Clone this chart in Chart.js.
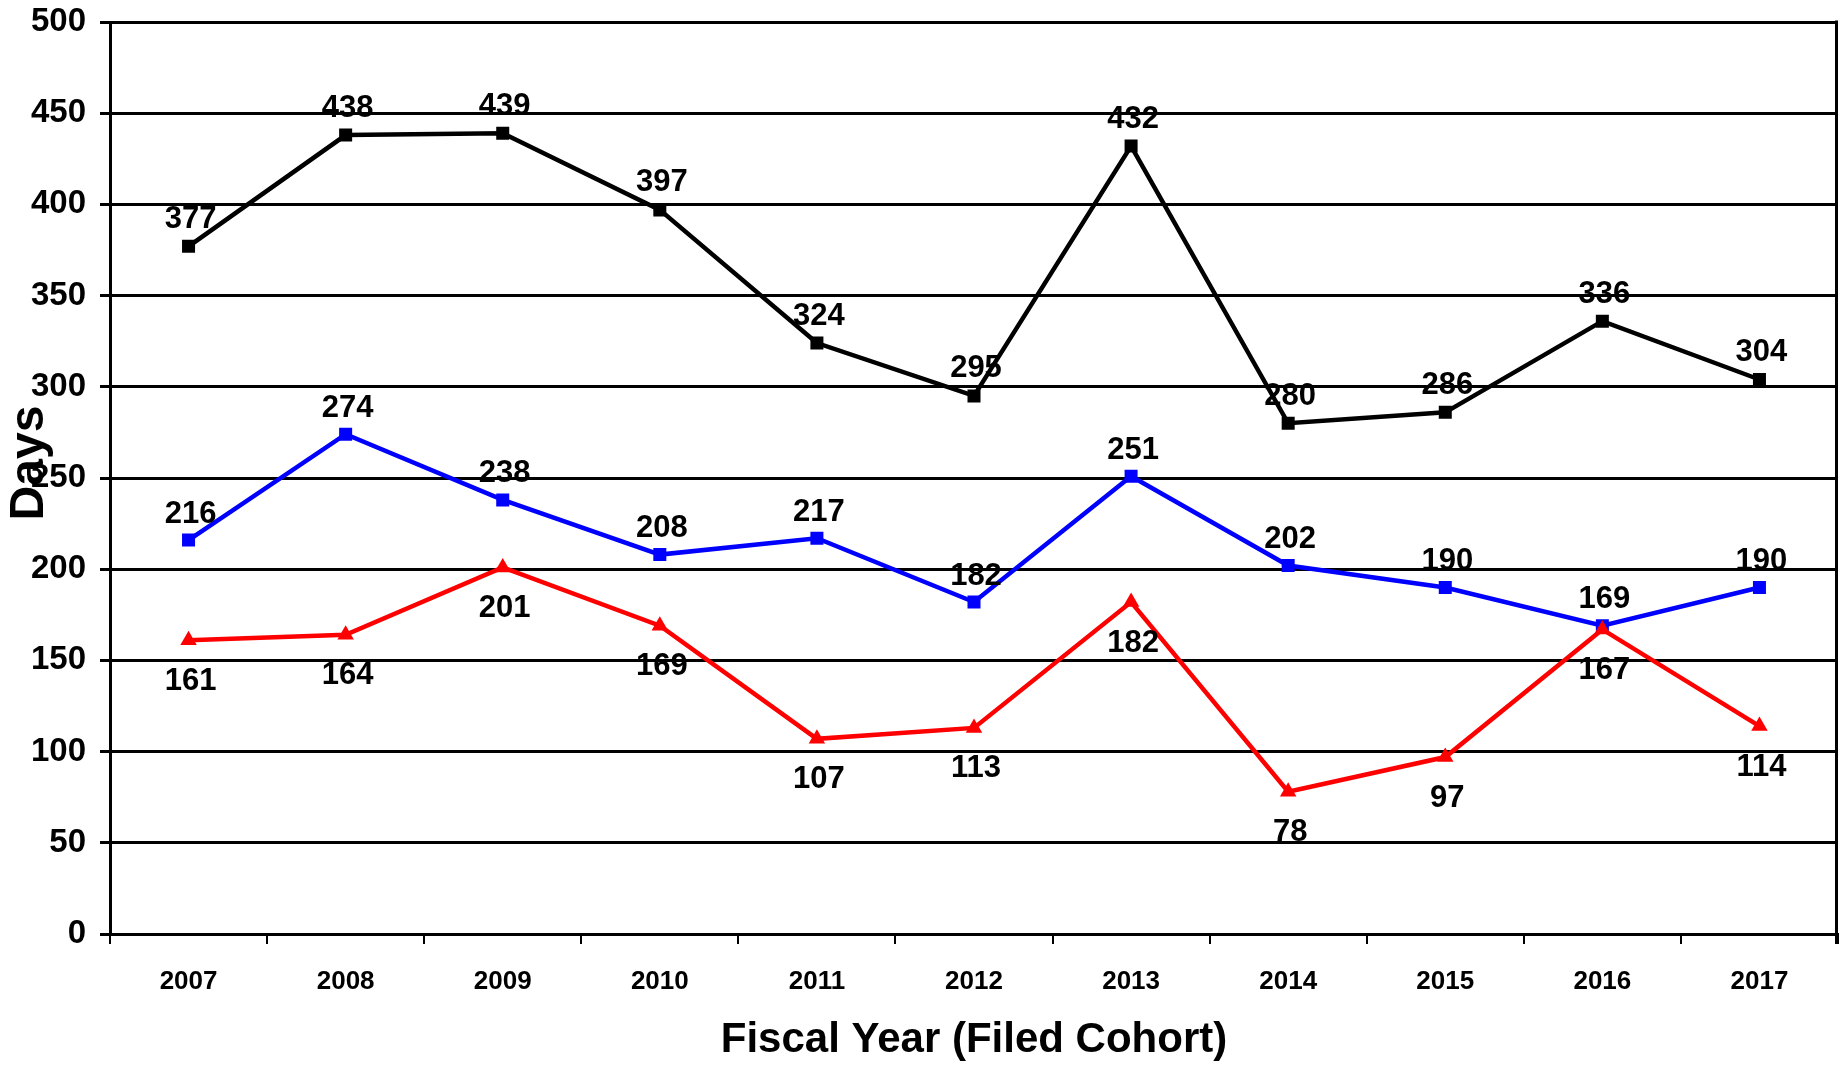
<!DOCTYPE html>
<html lang="en">
<head>
    <meta charset="UTF-8">
    <title>Days by Fiscal Year (Filed Cohort)</title>
    <script src="https://cdn.jsdelivr.net/npm/chart.js"></script>
    <style>
        html, body {
            margin: 0;
            padding: 0;
            overflow: hidden;
            background-color: white;
        }
        canvas {
            display: block;
        }
    </style>
</head>
<body>
    <canvas id="daysChart" width="1839" height="1067"></canvas>

    <script>
        const years = ['2007', '2008', '2009', '2010', '2011', '2012', '2013', '2014', '2015', '2016', '2017'];
        const blackSeries = [377, 438, 439, 397, 324, 295, 432, 280, 286, 336, 304];
        const blueSeries = [216, 274, 238, 208, 217, 182, 251, 202, 190, 169, 190];
        const redSeries = [161, 164, 201, 169, 107, 113, 182, 78, 97, 167, 114];
        const yTicks = [0, 50, 100, 150, 200, 250, 300, 350, 400, 450, 500];
        const xTitle = 'Fiscal Year (Filed Cohort)';
        const yTitle = 'Days';

        const FONT = '"Liberation Sans", Arial, sans-serif';

        // value labels above / below each point
        const valueLabels = {
            id: 'valueLabels',
            afterDatasetsDraw(chart) {
                const ctx = chart.ctx;
                ctx.save();
                ctx.font = 'bold 31px ' + FONT;
                ctx.fillStyle = '#000';
                ctx.textAlign = 'center';
                ctx.textBaseline = 'middle';
                chart.data.datasets.forEach((ds, i) => {
                    const meta = chart.getDatasetMeta(i);
                    meta.data.forEach((pt, j) => {
                        ctx.fillText(String(ds.data[j]), pt.x + 2, pt.y + ds.labelOffset);
                    });
                });
                ctx.restore();
            }
        };

        // right-hand frame line + axis titles
        const frameAndTitles = {
            id: 'frameAndTitles',
            afterDraw(chart) {
                const a = chart.chartArea;
                const ctx = chart.ctx;
                ctx.save();
                ctx.strokeStyle = '#000';
                ctx.lineWidth = 3;
                ctx.beginPath();
                ctx.moveTo(a.right - 1.5, a.top - 1.5);
                ctx.lineTo(a.right - 1.5, a.bottom + 10);
                ctx.stroke();

                ctx.fillStyle = '#000';
                ctx.textAlign = 'center';
                ctx.textBaseline = 'middle';
                ctx.font = 'bold 42px ' + FONT;
                ctx.fillText(xTitle, (a.left + a.right) / 2, 1040);

                ctx.translate(30, 463);
                ctx.rotate(-Math.PI / 2);
                ctx.font = 'bold 48px ' + FONT;
                ctx.fillText(yTitle, 0, 0);
                ctx.restore();
            }
        };

        const ctx = document.getElementById('daysChart').getContext('2d');
        new Chart(ctx, {
            type: 'line',
            data: {
                labels: years,
                datasets: [
                    {
                        label: 'Black',
                        data: blackSeries,
                        borderColor: '#000000',
                        backgroundColor: '#000000',
                        borderWidth: 4.5,
                        pointStyle: 'rect',
                        pointRadius: 9.2,
                        pointBorderWidth: 0,
                        labelOffset: -27,
                        order: 2
                    },
                    {
                        label: 'Blue',
                        data: blueSeries,
                        borderColor: '#0000ff',
                        backgroundColor: '#0000ff',
                        borderWidth: 4.5,
                        pointStyle: 'rect',
                        pointRadius: 9.2,
                        pointBorderWidth: 0,
                        labelOffset: -26,
                        order: 1
                    },
                    {
                        label: 'Red',
                        data: redSeries,
                        borderColor: '#ff0000',
                        backgroundColor: '#ff0000',
                        borderWidth: 4.5,
                        pointStyle: 'triangle',
                        pointRadius: 9.5,
                        pointBorderWidth: 0,
                        labelOffset: 41,
                        order: 0
                    }
                ]
            },
            options: {
                responsive: false,
                animation: false,
                layout: {
                    autoPadding: false,
                    padding: { top: 22, right: 1, bottom: 0, left: 0 }
                },
                plugins: {
                    legend: { display: false },
                    tooltip: { enabled: false }
                },
                elements: { line: { tension: 0 } },
                scales: {
                    x: {
                        offset: true,
                        grid: {
                            offset: true,
                            drawOnChartArea: false,
                            drawTicks: true,
                            tickLength: 10,
                            color: '#000',
                            lineWidth: 2
                        },
                        border: { color: '#000', width: 3 },
                        ticks: {
                            color: '#000',
                            padding: 22,
                            maxRotation: 0,
                            font: { family: FONT, size: 26, weight: 'bold' }
                        },
                        afterFit(scale) {
                            scale.height = 133;
                            scale.paddingLeft = 0;
                            scale.paddingRight = 0;
                        }
                    },
                    y: {
                        min: 0,
                        max: 500,
                        afterBuildTicks(scale) {
                            scale.ticks = yTicks.map(v => ({ value: v }));
                        },
                        grid: {
                            color: '#000',
                            lineWidth: 3,
                            drawTicks: true,
                            tickLength: 10
                        },
                        border: { color: '#000', width: 3 },
                        ticks: {
                            color: '#000',
                            padding: 14,
                            font: { family: FONT, size: 33, weight: 'bold' }
                        },
                        afterFit(scale) {
                            scale.width = 110;
                            scale.paddingTop = 0;
                            scale.paddingBottom = 0;
                        }
                    }
                }
            },
            plugins: [valueLabels, frameAndTitles]
        });
    </script>
</body>
</html>
